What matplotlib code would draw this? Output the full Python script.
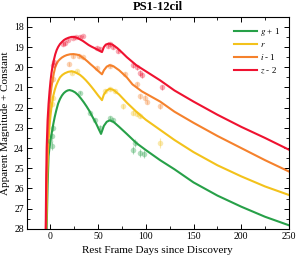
import matplotlib
matplotlib.use("Agg")
import matplotlib.pyplot as plt
from matplotlib.ticker import MultipleLocator

plt.rcParams["font.family"] = ["Liberation Serif", "DejaVu Serif"]
plt.rcParams["mathtext.fontset"] = "stix"

# model light curves (rest-frame days, magnitude + constant)
z_days = [-5, -4.5, -4, -3, -2, -1, 0, 1, 2, 3.5, 5, 6.5, 8, 10, 12, 14, 16, 19, 22, 25, 28, 31, 34,
          37, 40, 43, 46, 50, 54, 56, 58, 61, 65, 70, 75, 80, 90, 100, 115, 130, 150, 175, 200, 225, 250]
z_mag = [28.0, 25.5, 24.0, 22.6, 21.8, 21.2, 20.7, 20.3, 20.0, 19.65, 19.36, 19.15, 19.0, 18.85,
         18.75, 18.66, 18.6, 18.54, 18.5, 18.5, 18.55, 18.62, 18.7, 18.8, 18.9, 18.98, 19.05, 19.15,
         19.25, 19.0, 18.88, 18.83, 18.88, 19.05, 19.27, 19.5, 19.9, 20.2, 20.65, 21.15, 21.7,
         22.35, 22.95, 23.5, 24.08]

i_days = [-4.8, -4, -3, -2, -1, 0, 1, 2, 3.5, 5, 6.5, 8, 10, 12, 14.5, 17, 20.5, 24, 27, 30, 33, 36,
          39, 42, 45, 48, 54, 56, 59, 62, 66, 72, 80, 86, 96, 115, 130, 150, 175, 200, 225, 250]
i_mag = [28.0, 25.5, 23.8, 22.7, 21.95, 21.4, 21.0, 20.7, 20.3, 20.0, 19.83, 19.7, 19.6, 19.52,
         19.45, 19.4, 19.36, 19.35, 19.37, 19.4, 19.5, 19.6, 19.72, 19.85, 19.97, 20.1, 20.35, 20.15,
         19.97, 19.9, 19.95, 20.15, 20.5, 20.85, 21.2, 21.7, 22.2, 22.75, 23.4, 24.0, 24.6, 25.16]

r_days = [-4.5, -3.5, -2.5, -1, 0, 1, 2, 3, 4.5, 6, 8, 10, 12.5, 15, 18.5, 22, 25, 28, 31, 34, 37, 40,
          43, 46, 50, 54, 56, 59, 62, 66, 72, 80, 90, 100, 115, 130, 150, 175, 200, 225, 250]
r_mag = [28.0, 25.5, 24.0, 22.9, 22.4, 22.0, 21.68, 21.4, 21.12, 20.9, 20.68, 20.5, 20.38, 20.3,
         20.23, 20.2, 20.23, 20.3, 20.38, 20.5, 20.64, 20.8, 20.97, 21.15, 21.4, 21.63, 21.35, 21.15,
         21.07, 21.12, 21.35, 21.75, 22.2, 22.6, 23.1, 23.6, 24.2, 24.85, 25.4, 25.9, 26.32]

g_days = [-4, -3, -2, -1, 0, 1.5, 3, 4.5, 6, 8, 10, 12, 14, 16, 18, 20, 23, 26, 29, 32, 35, 38, 41,
          44, 48, 53, 56, 59, 62, 66, 72, 80, 90, 100, 115, 130, 150, 175, 200, 225, 250]
g_mag = [28.0, 25.8, 24.4, 23.95, 23.6, 23.2, 22.8, 22.45, 22.15, 21.8, 21.57, 21.4, 21.28, 21.2,
         21.15, 21.13, 21.17, 21.25, 21.38, 21.55, 21.74, 21.95, 22.18, 22.45, 22.8, 23.3, 22.9,
         22.7, 22.63, 22.7, 22.95, 23.3, 23.75, 24.1, 24.6, 25.05, 25.7, 26.35, 26.9, 27.4, 27.82]

# observed photometry
z_obs_t = [3, 4, 13.6, 15, 18, 24, 27, 31, 34.6, 48.6, 52, 60.8, 62.6, 66, 71.3, 87, 90.5, 94, 96, 116.8]
z_obs_m = [19.9, 19.75, 18.85, 18.8, 18.65, 18.55, 18.5, 18.48, 18.45, 19.03, 19.1, 18.95, 18.85,
           19.0, 19.2, 19.9, 20.0, 20.27, 20.4, 21.0]
z_obs_e = [0.1, 0.1, 0.08, 0.08, 0.06, 0.06, 0.06, 0.06, 0.06, 0.08, 0.08, 0.08, 0.08, 0.08, 0.1,
           0.12, 0.12, 0.15, 0.12, 0.12]

i_obs_t = [3, 18.9, 24, 29.4, 34.6, 48.6, 62.6, 78.3, 90.5, 94, 99, 101, 115]
i_obs_m = [20.6, 19.86, 19.44, 19.44, 19.5, 20.02, 19.95, 20.35, 20.85, 21.43, 21.5, 21.72, 21.93]
i_obs_e = [0.12, 0.1, 0.08, 0.08, 0.08, 0.1, 0.1, 0.1, 0.12, 0.12, 0.12, 0.12, 0.12]

r_obs_t = [1.5, 3, 22.4, 27.7, 57, 62.6, 68, 76.5, 87, 90.5, 94, 115]
r_obs_m = [21.8, 21.5, 20.27, 20.2, 21.2, 21.06, 21.2, 21.93, 22.26, 22.3, 22.4, 23.75]
r_obs_e = [0.15, 0.12, 0.08, 0.08, 0.1, 0.1, 0.1, 0.12, 0.12, 0.12, 0.12, 0.25]

g_obs_t = [0, 1.5, 1.5, 3, 31, 41.6, 47, 52, 62.6, 66, 87, 88.8, 94, 97.6]
g_obs_m = [23.67, 23.42, 23.9, 23.0, 21.26, 22.26, 22.6, 23.0, 22.5, 22.6, 24.08, 23.75, 24.25, 24.3]
g_obs_e = [0.2, 0.15, 0.2, 0.15, 0.08, 0.1, 0.1, 0.12, 0.1, 0.1, 0.2, 0.2, 0.2, 0.2]

bands = [
    (g_days, g_mag, g_obs_t, g_obs_m, g_obs_e, "#27a048", r"$g$ + 1"),
    (r_days, r_mag, r_obs_t, r_obs_m, r_obs_e, "#f3c21b", r"$r$"),
    (i_days, i_mag, i_obs_t, i_obs_m, i_obs_e, "#f5812c", r"$i$ - 1"),
    (z_days, z_mag, z_obs_t, z_obs_m, z_obs_e, "#ef1230", r"$z$ - 2"),
]

fig = plt.figure(figsize=(2.96, 2.61), dpi=100)
ax = fig.add_axes([0.09, 0.123, 0.886, 0.813])

for days, mag, ot, om, oe, c, lab in bands:
    ax.errorbar(ot, om, yerr=oe, fmt="o", ms=4, color=c, alpha=0.35,
                mec="none", elinewidth=0.8, capsize=0)
for days, mag, ot, om, oe, c, lab in bands:
    ax.plot(days, mag, color=c, lw=1.5, label=lab)

ax.set_xlim(-25, 250)
ax.set_ylim(28, 17.5)
ax.xaxis.set_major_locator(MultipleLocator(50))
ax.xaxis.set_minor_locator(MultipleLocator(25))
ax.yaxis.set_major_locator(MultipleLocator(1))
ax.yaxis.set_minor_locator(MultipleLocator(0.5))
ax.tick_params(which="both", direction="in", top=True, right=True, labelsize=7, pad=2)
ax.tick_params(which="major", length=3.5, width=0.7)
ax.tick_params(which="minor", length=2, width=0.6)
for s in ax.spines.values():
    s.set_linewidth(0.8)

ax.set_xlabel("Rest Frame Days since Discovery", fontsize=8, labelpad=4)
ax.set_ylabel("Apparent Magnitude + Constant", fontsize=8, labelpad=3)
ax.set_title("PS1-12cil", fontsize=9, fontweight="bold", pad=5)

ax.legend(loc="upper right", fontsize=6.5, frameon=False, handlelength=2.6,
          handletextpad=0.3, labelspacing=0.35, borderaxespad=0.6)

fig.savefig("out.png", dpi=100)
